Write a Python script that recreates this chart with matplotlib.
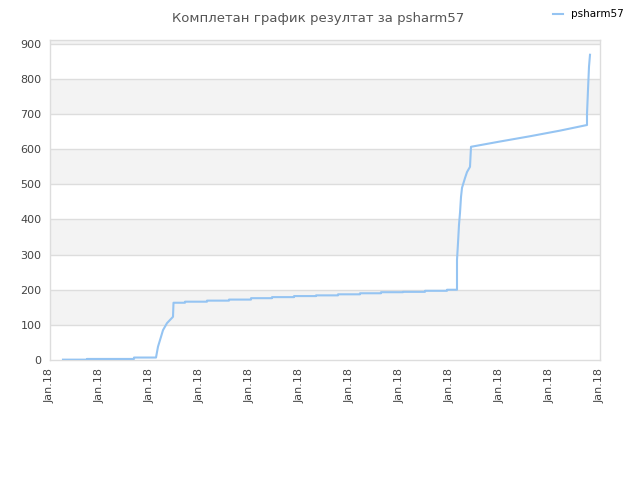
import matplotlib.pyplot as plt

# Точки графика: x у јединицама поделе (0..11), y = бодови
px = [63, 87, 87, 134, 134, 156, 158, 161, 163, 167, 173, 173.5,
      185, 185, 207, 207, 229, 229, 251, 251, 272, 272, 294, 294,
      316, 316, 338, 338, 360, 360, 381, 381, 403, 403, 425, 425,
      447, 447, 457, 457, 458, 459, 460, 461, 462, 465, 467, 470,
      471, 473, 500, 530, 560, 587, 587, 588, 589, 590]
vals = [1, 1, 3, 3, 7, 7, 38, 66, 85, 105, 123, 163,
        163, 166, 166, 169, 169, 172, 172, 176, 176, 179, 179, 182,
        182, 184, 184, 187, 187, 190, 190, 193, 193, 194, 194, 197,
        197, 200, 200, 285, 333, 385, 419, 464, 490, 518, 535, 550,
        607, 608, 622, 637, 653, 669, 700, 769, 835, 869]
x_vals = [(p - 50) / 50 for p in px]

tick_labels = ["Jan.18"] * 12
title = "Комплетан график резултат за psharm57"
series_name = "psharm57"

fig = plt.figure(figsize=(6.4, 4.8), dpi=100)
ax = fig.add_axes([50 / 640, 120 / 480, 550 / 640, 320 / 480])

ymax = 911
# наизменичне траке
for lo in range(100, 1000, 200):
    ax.axhspan(lo, min(lo + 100, ymax), color="#f3f3f3", zorder=0, lw=0)
for g in range(100, 1000, 100):
    ax.axhline(g, color="#dddddd", lw=1, zorder=1)

ax.plot(x_vals, vals, color="#95c4f2", lw=1.5, zorder=3, label=series_name)

ax.set_xlim(0, 11)
ax.set_ylim(0, ymax)
ax.set_xticks(range(12))
ax.set_xticklabels(tick_labels, rotation=90, fontsize=8, color="#444444")
ax.set_yticks(range(0, 1000, 100))
ax.tick_params(axis="y", labelsize=8, labelcolor="#444444", length=0, pad=6)
ax.tick_params(axis="x", length=0, pad=6)
for s in ax.spines.values():
    s.set_color("#dddddd")
    s.set_linewidth(1)

fig.text(0.497, 0.975, title, ha="center", va="top", fontsize=9.5, color="#555555")
fig.legend(loc="upper right", bbox_to_anchor=(0.99, 1.0), frameon=False,
           fontsize=7.5, handlelength=1.0, handletextpad=0.8)

fig.savefig("out.png", dpi=100)
